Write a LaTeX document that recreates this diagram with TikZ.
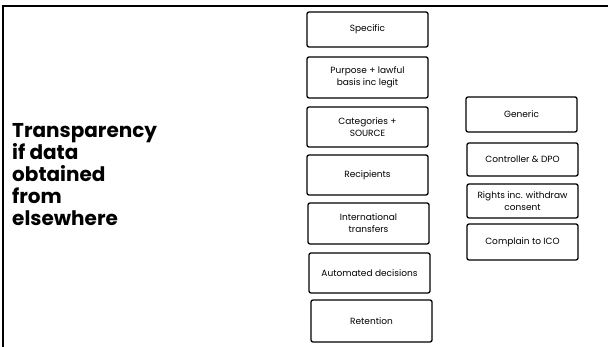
\documentclass[tikz,border=0pt]{standalone}
\usepackage{fontspec}
\setmainfont{Poppins}
\begin{document}
\begin{tikzpicture}[x=1pt,y=-1pt,
  box/.style={draw=black,line width=1.3pt,rounded corners=2pt,fill=white,align=center,
    font=\fontsize{9}{12}\selectfont,inner sep=1pt},
  frame/.style={line width=2.4pt,draw=black}]
\useasboundingbox (0,0) rectangle (608,347);
\coordinate (tl) at (3,6);
\coordinate (tr) at (608,6);
\coordinate (bl) at (3,347);
\draw[frame] (tr) -- (tl) -- (bl);
% left column
\node[box,minimum width=121pt,minimum height=35pt] (spec) at (367.5,29.5) {Specific};
\node[box,minimum width=121pt,minimum height=41pt] (purp) at (367.5,77.5) {Purpose + lawful\\basis inc legit};
\node[box,minimum width=121pt,minimum height=40pt] (cat) at (367.5,127) {Categories +\\SOURCE};
\node[box,minimum width=121pt,minimum height=40pt] (rec) at (367.5,175) {Recipients};
\node[box,minimum width=121pt,minimum height=41pt] (intl) at (368.5,223.5) {International\\transfers};
\node[box,minimum width=121pt,minimum height=40pt] (auto) at (369.5,273) {Automated decisions};
\node[box,minimum width=121pt,minimum height=42pt] (ret) at (371.5,321) {Retention};
% right column
\node[box,minimum width=111pt,minimum height=35pt] (gen) at (521.5,114.5) {Generic};
\node[box,minimum width=111pt,minimum height=33pt] (ctrl) at (522.5,159.5) {Controller \& DPO};
\node[box,minimum width=111pt,minimum height=34pt] (rights) at (522.5,201) {Rights inc. withdraw\\consent};
\node[box,minimum width=111pt,minimum height=36pt] (compl) at (522.5,242) {Complain to ICO};
% title
\node[anchor=north west,inner sep=0pt,align=left,font=\fontsize{20}{22}\selectfont\bfseries] (title) at (12,123)
  {Transparency\\if data\\obtained\\from\\elsewhere};
\end{tikzpicture}
\end{document}
